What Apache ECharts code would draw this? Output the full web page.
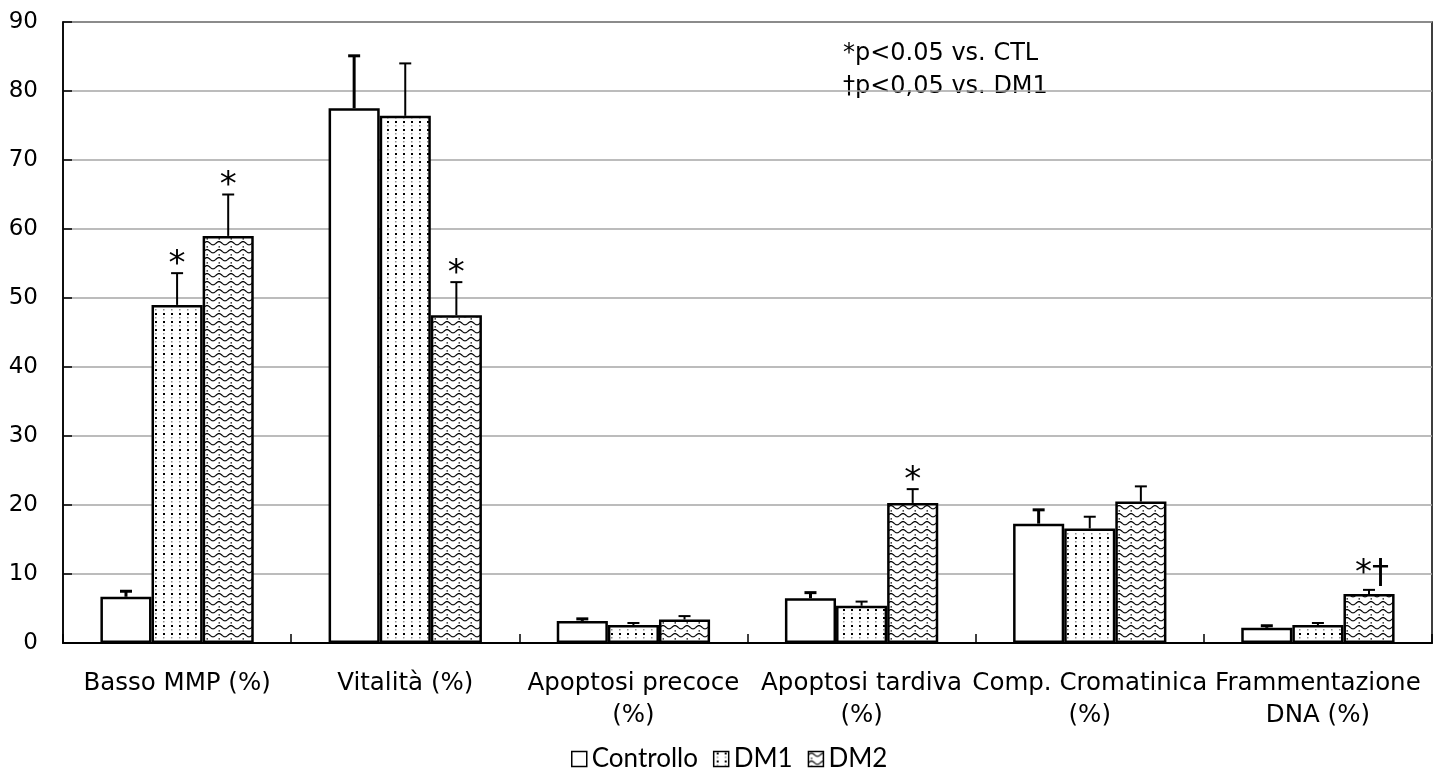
<!DOCTYPE html>
<html>
<head>
<meta charset="utf-8">
<style>
  html, body { margin: 0; padding: 0; background: #ffffff; }
  #chart { width: 1438px; height: 778px; }
</style>
<script src="https://cdn.jsdelivr.net/npm/echarts@6/dist/echarts.min.js"></script>
</head>
<body>
<div id="chart"></div>
<script>
// Sperm parameters per group: means and standard errors (%)
const categories = [
  'Basso MMP (%)',
  'Vitalità (%)',
  'Apoptosi precoce\n(%)',
  'Apoptosi tardiva\n(%)',
  'Comp. Cromatinica\n(%)',
  'Frammentazione\nDNA (%)'
];
const seriesNames = ['Controllo', 'DM1', 'DM2'];

const controllo    = [6.7, 77.5, 3.2, 6.5, 17.3, 2.2];
const controlloErr = [0.8, 7.6, 0.3, 0.8, 2.0, 0.3];
const dm1          = [49.0, 76.4, 2.6, 5.4, 16.6, 2.6];
const dm1Err       = [4.6, 7.6, 0.3, 0.6, 1.7, 0.3];
const dm2          = [59.0, 47.5, 3.4, 20.3, 20.5, 7.1];
const dm2Err       = [6.0, 4.8, 0.5, 2.0, 2.2, 0.6];

// significance marks above the error bars
const controlloSig = ['', '', '', '', '', ''];
const dm1Sig       = ['*', '', '', '', '', ''];
const dm2Sig       = ['*', '*', '', '*', '', '*†'];

const yTicks = [0, 10, 20, 30, 40, 50, 60, 70, 80, 90];

const noteLines = ['*p<0.05 vs. CTL', '†p<0,05 vs. DM1'];

// ---- fill patterns ----
function dotPattern() {
  const c = document.createElement('canvas');
  c.width = 8; c.height = 8;
  const g = c.getContext('2d');
  g.fillStyle = '#ffffff';
  g.fillRect(0, 0, 8, 8);
  g.fillStyle = '#000000';
  g.fillRect(3, 1, 2, 2);
  g.fillStyle = '#8c8c8c';
  g.fillRect(3, 5, 1.5, 1.5);
  return c;
}
function wavePattern() {
  const w = 12, h = 8;
  const c = document.createElement('canvas');
  c.width = w; c.height = h;
  const g = c.getContext('2d');
  g.fillStyle = '#ffffff';
  g.fillRect(0, 0, w, h);
  g.strokeStyle = '#000000';
  g.lineWidth = 1.2;
  g.beginPath();
  for (let x = -1; x <= w + 1; x += 0.5) {
    const y = 3.2 - 1.6 * Math.sin((2 * Math.PI * x) / w);
    if (x === -1) g.moveTo(x, y); else g.lineTo(x, y);
  }
  g.stroke();
  g.fillStyle = '#000000';
  g.fillRect(2.5, 6.3, 1.5, 1.2);
  return c;
}

const fills = [
  '#ffffff',
  { image: dotPattern(), repeat: 'repeat' },
  { image: wavePattern(), repeat: 'repeat' }
];

const BAR_FRAC = 0.224; // bar width as a share of the category band
const values = [controllo, dm1, dm2];
const errors = [controlloErr, dm1Err, dm2Err];
const sigs   = [controlloSig, dm1Sig, dm2Sig];
const errWidth = [3, 2, 2];

const FONT = '"DejaVu Sans", Verdana, sans-serif';

const barSeries = seriesNames.map((name, k) => ({
  name: name,
  type: 'bar',
  data: values[k],
  barWidth: (BAR_FRAC * 100) + '%',
  barGap: '0%',
  itemStyle: { color: fills[k], borderColor: '#000000', borderWidth: 2.5 },
  emphasis: { disabled: true },
  z: 2
}));

const errSeries = seriesNames.map((name, k) => ({
  name: name + ' SE',
  type: 'custom',
  z: 3,
  silent: true,
  data: values[k].map((v, i) => [i, v, errors[k][i]]),
  encode: { x: 0, y: 1 },
  renderItem: function (params, api) {
    const i = api.value(0);
    const v = api.value(1);
    const e = api.value(2);
    const sig = sigs[k][i];
    const catW = api.size([1, 0])[0];
    const bw = catW * BAR_FRAC;
    const x = api.coord([i, 0])[0] + (k - 1) * bw;
    const yBase = api.coord([i, v])[1];
    const yTop = api.coord([i, v + e])[1];
    const lw = errWidth[k];
    const children = [
      { type: 'line', shape: { x1: x, y1: yBase, x2: x, y2: yTop }, style: { stroke: '#000', lineWidth: lw } },
      { type: 'line', shape: { x1: x - 6, y1: yTop, x2: x + 6, y2: yTop }, style: { stroke: '#000', lineWidth: lw } }
    ];
    if (sig) {
      const multi = sig.length > 1;
      children.push({
        type: 'text',
        x: x + (multi ? 3 : 0),
        y: yTop + (multi ? 1 : 9),
        style: {
          text: sig,
          font: '34px ' + FONT,
          fill: '#000',
          align: 'center',
          verticalAlign: 'bottom'
        }
      });
    }
    return { type: 'group', children: children };
  }
}));

const chart = echarts.init(document.getElementById('chart'), null, { renderer: 'canvas' });
chart.setOption({
  animation: false,
  backgroundColor: '#ffffff',
  textStyle: { fontFamily: FONT },
  grid: { left: 63, right: 6, top: 22, bottom: 135, containLabel: false,
          show: true, borderColor: '#000', borderWidth: 1.5 },
  legend: {
    data: seriesNames,
    bottom: 1,
    left: 566,
    itemWidth: 15,
    itemHeight: 15,
    itemGap: 15,
    icon: 'rect',
    itemStyle: { borderColor: '#000', borderWidth: 1.5 },
    textStyle: { fontFamily: 'Lato, "Open Sans", sans-serif', fontSize: 26, color: '#000' }
  },
  xAxis: {
    type: 'category',
    data: categories,
    axisLine: { lineStyle: { color: '#000', width: 2 } },
    axisTick: { show: true, inside: true, length: 9, lineStyle: { color: '#000', width: 1.5 } },
    axisLabel: { color: '#000', fontSize: 24.5, lineHeight: 32, margin: 25, interval: 0, fontFamily: FONT },
    splitLine: { show: false }
  },
  yAxis: {
    type: 'value',
    min: yTicks[0],
    max: yTicks[yTicks.length - 1],
    interval: 10,
    axisLine: { show: true, lineStyle: { color: '#000', width: 1.5 } },
    axisTick: { show: true, inside: true, length: 9, lineStyle: { color: '#000', width: 1.5 } },
    axisLabel: { color: '#000', fontSize: 23, margin: 25, fontFamily: FONT },
    splitLine: { show: true, lineStyle: { color: '#a6a6a6', width: 1.5 } }
  },
  graphic: [
    { type: 'text', left: 843, top: 42, style: { text: noteLines[0], font: '24px ' + FONT, fill: '#000' } },
    { type: 'text', left: 843, top: 75, style: { text: noteLines[1], font: '24px ' + FONT, fill: '#000' } }
  ],
  series: barSeries.concat(errSeries)
});
</script>
</body>
</html>
